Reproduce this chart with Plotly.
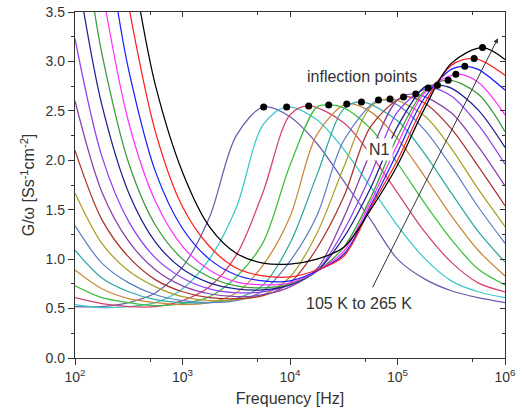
import plotly.graph_objects as go

# ---------------- data ----------------
TEMPS = ["105 K", "115 K", "125 K", "135 K", "145 K", "155 K", "165 K", "175 K", "185 K",
         "195 K", "205 K", "215 K", "225 K", "235 K", "245 K", "255 K", "265 K"]

COLORS = ["#6B5FAE", "#3CC8C8", "#D4436A", "#3DBF3D", "#C8873C", "#2FA8A0", "#5B7FC4",
          "#A8A02A", "#A8322E", "#8B3FA8", "#9040F0", "#1F1F8F", "#3A9A3A", "#FF33FF",
          "#1E1EFF", "#FF1E1E", "#000000"]

# log10(frequency / Hz) and G/omega values for each temperature
LOGF_105K = [2.0, 2.25, 2.5, 2.75, 3.0, 3.25, 3.5, 3.755, 4.0, 4.25, 4.5, 4.75, 5.0, 5.25, 5.5, 5.75, 6.0]
G_105K = [0.52, 0.52, 0.56, 0.66, 0.92, 1.42, 2.25, 2.54, 2.44, 2.17, 1.79, 1.40, 1.00, 0.80, 0.68, 0.61, 0.56]

LOGF_115K = [2.0, 2.25, 2.5, 2.75, 3.0, 3.25, 3.5, 3.75, 3.969, 4.25, 4.5, 4.75, 5.0, 5.25, 5.5, 5.75, 6.0]
G_115K = [0.54, 0.51, 0.52, 0.56, 0.70, 1.00, 1.52, 2.36, 2.54, 2.41, 2.11, 1.73, 1.34, 1.01, 0.78, 0.67, 0.61]

LOGF_125K = [2.0, 2.25, 2.5, 2.75, 3.0, 3.25, 3.5, 3.75, 4.0, 4.174, 4.5, 4.75, 5.0, 5.25, 5.5, 5.75, 6.0]
G_125K = [0.61, 0.55, 0.52, 0.52, 0.58, 0.72, 1.04, 1.68, 2.46, 2.55, 2.38, 2.06, 1.67, 1.28, 0.97, 0.76, 0.67]

LOGF_135K = [2.0, 2.25, 2.5, 2.75, 3.0, 3.25, 3.5, 3.75, 4.0, 4.25, 4.36, 4.5, 4.75, 5.0, 5.25, 5.5, 5.75, 6.0]
G_135K = [0.73, 0.61, 0.56, 0.53, 0.55, 0.62, 0.82, 1.17, 1.95, 2.54, 2.56, 2.53, 2.32, 1.97, 1.57, 1.20, 0.90, 0.74]

LOGF_145K = [2.0, 2.25, 2.5, 2.75, 3.0, 3.25, 3.5, 3.75, 4.0, 4.25, 4.528, 4.75, 5.0, 5.25, 5.5, 5.75, 6.0]
G_145K = [0.89, 0.70, 0.60, 0.56, 0.54, 0.56, 0.66, 0.94, 1.43, 2.26, 2.57, 2.49, 2.22, 1.84, 1.44, 1.09, 0.83]

LOGF_155K = [2.0, 2.25, 2.5, 2.75, 3.0, 3.25, 3.5, 3.75, 4.0, 4.25, 4.5, 4.665, 5.0, 5.25, 5.5, 5.75, 6.0]
G_155K = [1.09, 0.81, 0.67, 0.59, 0.56, 0.56, 0.60, 0.74, 1.16, 1.85, 2.52, 2.59, 2.40, 2.07, 1.67, 1.28, 0.97]

LOGF_165K = [2.0, 2.25, 2.5, 2.75, 3.0, 3.25, 3.5, 3.75, 4.0, 4.25, 4.5, 4.823, 5.0, 5.25, 5.5, 5.75, 6.0]
G_165K = [1.34, 0.96, 0.76, 0.64, 0.58, 0.56, 0.58, 0.68, 0.98, 1.44, 2.20, 2.61, 2.56, 2.31, 1.94, 1.53, 1.16]

LOGF_175K = [2.0, 2.25, 2.5, 2.75, 3.0, 3.25, 3.5, 3.75, 4.0, 4.25, 4.5, 4.75, 4.931, 5.25, 5.5, 5.75, 6.0]
G_175K = [1.67, 1.16, 0.88, 0.72, 0.62, 0.58, 0.59, 0.64, 0.82, 1.26, 1.93, 2.54, 2.62, 2.45, 2.12, 1.71, 1.33]

LOGF_185K = [2.0, 2.25, 2.5, 2.75, 3.0, 3.25, 3.5, 3.75, 4.0, 4.25, 4.5, 4.75, 5.056, 5.25, 5.5, 5.75, 6.0]
G_185K = [2.10, 1.40, 1.02, 0.79, 0.67, 0.61, 0.60, 0.63, 0.76, 1.11, 1.63, 2.34, 2.64, 2.58, 2.32, 1.94, 1.54]

LOGF_195K = [2.0, 2.25, 2.5, 2.75, 3.0, 3.25, 3.5, 3.75, 4.0, 4.25, 4.5, 4.75, 5.0, 5.17, 5.5, 5.75, 6.0]
G_195K = [2.60, 1.68, 1.18, 0.89, 0.73, 0.65, 0.62, 0.64, 0.72, 0.90, 1.42, 2.08, 2.61, 2.67, 2.48, 2.14, 1.74]

LOGF_205K = [2.0, 2.25, 2.5, 2.75, 3.0, 3.25, 3.5, 3.75, 4.0, 4.25, 4.5, 4.75, 5.0, 5.285, 5.5, 5.75, 6.0]
G_205K = [3.23, 2.04, 1.38, 1.01, 0.81, 0.70, 0.66, 0.67, 0.74, 0.88, 1.29, 1.85, 2.49, 2.73, 2.65, 2.36, 1.96]

LOGF_215K = [2.082, 2.25, 2.5, 2.75, 3.0, 3.25, 3.5, 3.75, 4.0, 4.25, 4.5, 4.75, 5.0, 5.25, 5.372, 5.5, 5.75, 6.0]
G_215K = [3.50, 2.56, 1.67, 1.17, 0.90, 0.76, 0.70, 0.69, 0.74, 0.88, 1.22, 1.72, 2.34, 2.74, 2.76, 2.73, 2.51, 2.13]

LOGF_225K = [2.182, 2.25, 2.5, 2.75, 3.0, 3.25, 3.5, 3.75, 4.0, 4.25, 4.5, 4.75, 5.0, 5.25, 5.471, 5.75, 6.0]
G_225K = [3.50, 3.08, 1.97, 1.34, 1.00, 0.82, 0.73, 0.71, 0.75, 0.88, 1.12, 1.62, 2.24, 2.70, 2.81, 2.67, 2.29]

LOGF_235K = [2.29, 2.5, 2.75, 3.0, 3.25, 3.5, 3.75, 4.0, 4.25, 4.5, 4.75, 5.0, 5.25, 5.543, 5.75, 6.0]
G_235K = [3.50, 2.38, 1.58, 1.13, 0.89, 0.77, 0.74, 0.76, 0.88, 1.08, 1.58, 2.16, 2.68, 2.87, 2.79, 2.46]

LOGF_245K = [2.40, 2.5, 2.75, 3.0, 3.25, 3.5, 3.75, 4.0, 4.25, 4.5, 4.75, 5.0, 5.25, 5.5, 5.626, 5.75, 6.0]
G_245K = [3.50, 2.91, 1.88, 1.31, 1.00, 0.84, 0.78, 0.78, 0.88, 1.05, 1.54, 2.08, 2.63, 2.92, 2.95, 2.92, 2.71]

LOGF_255K = [2.51, 2.75, 3.0, 3.25, 3.5, 3.75, 4.0, 4.25, 4.5, 4.75, 5.0, 5.25, 5.5, 5.713, 6.0]
G_255K = [3.50, 2.28, 1.53, 1.13, 0.91, 0.83, 0.82, 0.89, 1.03, 1.52, 2.00, 2.57, 2.96, 3.03, 2.86]

LOGF_265K = [2.61, 2.75, 3.0, 3.25, 3.5, 3.75, 4.0, 4.25, 4.5, 4.75, 5.0, 5.25, 5.5, 5.791, 6.0]
G_265K = [3.50, 2.75, 1.88, 1.33, 1.06, 0.96, 0.95, 1.00, 1.12, 1.50, 1.95, 2.52, 2.98, 3.14, 3.02]

# marked points (black dots)
PEAK_LOGF = [3.755, 3.969, 4.174, 4.360, 4.528, 4.665, 4.823, 4.931, 5.056, 5.170,
             5.285, 5.372, 5.471, 5.543, 5.626, 5.713, 5.791]
PEAK_G = [2.54, 2.54, 2.55, 2.56, 2.57, 2.59, 2.61, 2.62, 2.64, 2.67,
          2.73, 2.76, 2.81, 2.87, 2.95, 3.03, 3.14]

X_TICK_VALS = [1e2, 1e3, 1e4, 1e5, 1e6]
X_TICK_TEXT = ["10<sup>2</sup>", "10<sup>3</sup>", "10<sup>4</sup>", "10<sup>5</sup>", "10<sup>6</sup>"]
X_MINOR_VALS = [5e2, 5e3, 5e4, 5e5]

CURVES = [
    (LOGF_105K, G_105K), (LOGF_115K, G_115K), (LOGF_125K, G_125K), (LOGF_135K, G_135K),
    (LOGF_145K, G_145K), (LOGF_155K, G_155K), (LOGF_165K, G_165K), (LOGF_175K, G_175K),
    (LOGF_185K, G_185K), (LOGF_195K, G_195K), (LOGF_205K, G_205K), (LOGF_215K, G_215K),
    (LOGF_225K, G_225K), (LOGF_235K, G_235K), (LOGF_245K, G_245K), (LOGF_255K, G_255K),
    (LOGF_265K, G_265K),
]

# ---------------- figure ----------------
FONT = "Liberation Sans, Arial, sans-serif"
INK = "#333333"

fig = go.Figure()
for (lf, g), name, col in zip(CURVES, TEMPS, COLORS):
    fig.add_trace(go.Scatter(
        x=[10 ** v for v in lf], y=g, mode="lines", name=name,
        line=dict(color=col, width=1.25, shape="spline", smoothing=0.9),
        showlegend=False, hoverinfo="skip"))

fig.add_trace(go.Scatter(
    x=[10 ** v for v in PEAK_LOGF], y=PEAK_G, mode="markers",
    marker=dict(color="black", size=7), showlegend=False, hoverinfo="skip"))

# empty trace that carries the mirrored top/right axes
fig.add_trace(go.Scatter(x=[], y=[], xaxis="x2", yaxis="y2", showlegend=False,
                         hoverinfo="skip"))

axis_common = dict(showgrid=False, zeroline=False, showline=True, linecolor=INK,
                   linewidth=1.4, tickcolor=INK, tickwidth=1.2, automargin=False)

fig.update_layout(
    width=522, height=416, autosize=False,
    margin=dict(l=75, r=17, t=12, b=58),
    paper_bgcolor="white", plot_bgcolor="white",
    font=dict(family=FONT, size=14, color=INK),
    xaxis=dict(type="log", range=[2, 6], tickmode="array", tickvals=X_TICK_VALS,
               ticktext=X_TICK_TEXT, ticks="outside", ticklen=6,
               minor=dict(tickmode="array", tickvals=X_MINOR_VALS, ticks="outside",
                          ticklen=3, tickcolor=INK),
               title=dict(text="Frequency [Hz]", font=dict(size=16, color=INK), standoff=8),
               **axis_common),
    yaxis=dict(range=[0, 3.5], tickmode="linear", tick0=0, dtick=0.5, tickformat=".1f",
               ticks="outside", ticklen=6, ticklabeloverflow="allow",
               minor=dict(tickmode="linear", tick0=0, dtick=0.25, ticks="outside",
                          ticklen=3, tickcolor=INK),
               title=dict(text="G/\u03c9 [Ss<sup>-1</sup>cm<sup>-2</sup>]",
                          font=dict(size=16, color=INK), standoff=6),
               **axis_common),
    xaxis2=dict(type="log", range=[2, 6], overlaying="x", side="top", anchor="y",
                tickmode="array", tickvals=X_TICK_VALS, showticklabels=False,
                ticks="inside", ticklen=5,
                minor=dict(tickmode="array", tickvals=X_MINOR_VALS, ticks="inside",
                           ticklen=3, tickcolor=INK),
                **axis_common),
    yaxis2=dict(range=[0, 3.5], overlaying="y", side="right", anchor="x",
                tickmode="linear", tick0=0, dtick=0.5, showticklabels=False,
                ticks="inside", ticklen=5,
                minor=dict(tickmode="linear", tick0=0, dtick=0.25, ticks="inside",
                           ticklen=3, tickcolor=INK),
                **axis_common),
)

fig.add_annotation(x=4.668, y=2.85, xref="x", yref="y", text="inflection points",
                   showarrow=False, font=dict(size=16, color=INK))
fig.add_annotation(x=4.835, y=2.11, xref="x", yref="y", text="N1", showarrow=False,
                   bgcolor="white", borderpad=2, font=dict(size=16, color=INK))
fig.add_annotation(x=4.64, y=0.556, xref="x", yref="y", text="105 K to 265 K",
                   showarrow=False, font=dict(size=16, color=INK))
fig.add_annotation(x=5.934, y=3.235, xref="x", yref="y", ax=4.761, ay=0.70,
                   axref="x", ayref="y", text="", showarrow=True, arrowhead=2,
                   arrowsize=1, arrowwidth=1, arrowcolor=INK)

# remove the browser's default 8 px page margin so the 522x416 figure fills the window
fig.write_html("out.html", config={"displayModeBar": False},
               post_script="document.body.style.margin='0';")
